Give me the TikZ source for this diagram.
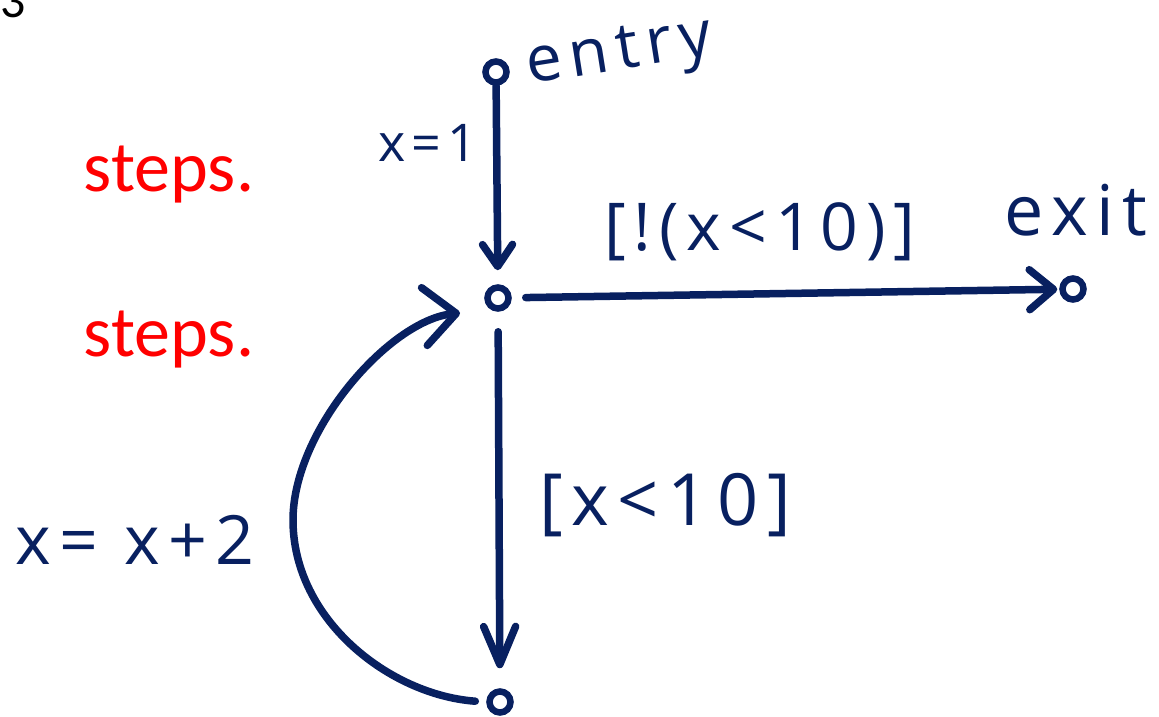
\documentclass[tikz,border=0pt]{standalone}
\usepackage{fontspec}
\setmainfont{Carlito}
\newfontfamily\hand[LetterSpace=12]{Open Sans}
\usetikzlibrary{arrows.meta}
\definecolor{ink}{RGB}{8,32,96}
\definecolor{slidered}{RGB}{255,0,0}
\tikzset{
  state/.style={circle,draw=ink,line width=6.5pt,minimum size=21pt,inner sep=0pt},
  edge/.style={draw=ink,line width=7.5pt,line cap=round},
  barb/.style 2 args={-{Straight Barb[length=#1,width=#2,line width=7.5pt,round]}},
  lbl/.style={text=ink,font=\hand\fontsize{#1}{#1}\selectfont,inner sep=0pt},
  redtxt/.style={text=slidered,font=\fontsize{72}{72}\selectfont,inner sep=0pt}
}
\begin{document}
\begin{tikzpicture}[x=1pt,y=-1pt]
\useasboundingbox (0,0) rectangle (1159,717);
\node[font=\fontsize{50}{50}\selectfont,anchor=base west,inner sep=0pt] (num) at (0,18) {3};
\node[redtxt] (s1) at (169,175) {steps.};
\node[redtxt] (s2) at (169,340) {steps.};
\node[state] (entry) at (496,72) {};
\node[state] (mid) at (498,298) {};
\node[state] (exit) at (1073,289) {};
\node[state] (bot) at (500,702) {};
\node[lbl=64,rotate=9] (entrylbl) at (620,56) {entry};
\node[lbl=52] (x1) at (428,143) {x=1};
\node[lbl=66] (cond1) at (760,232) {[!(x<10)]};
\node[lbl=70] (exitlbl) at (1076,210) {exit};
\node[lbl=72] (cond2) at (665,505) {[x<10]};
\node[lbl=68] (inc) at (135,540) {x= x+2};
\coordinate (c1) at (293,520);
\coordinate (loopin) at (460,313);
\draw[edge,barb={22pt}{30pt},shorten >=14pt] (entry) -- (mid);
\draw[edge,barb={24pt}{40pt},shorten <=14pt,shorten >=2pt] (mid) -- (exit);
\draw[edge,barb={38pt}{32pt},shorten <=20pt,shorten >=20pt] (mid) -- (bot);
\draw[edge,barb={32pt}{58pt},shorten <=11pt] (bot.west) .. controls (390,695) and (293,620) .. (c1) .. controls (293,430) and (390,320) .. (loopin);
\end{tikzpicture}
\end{document}
